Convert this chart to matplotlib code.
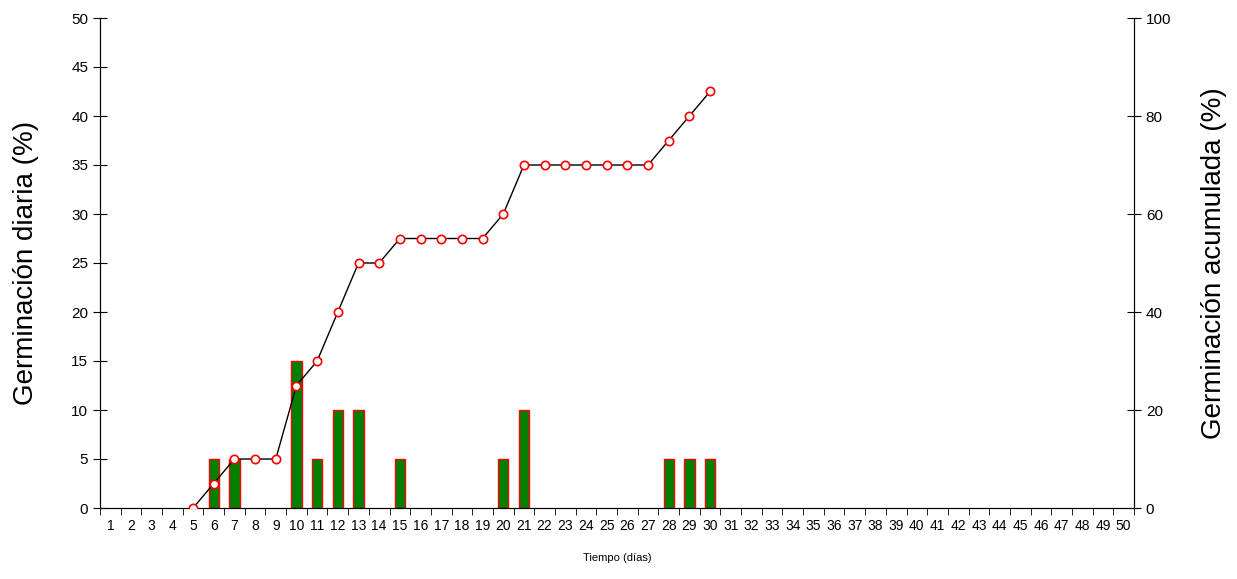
import matplotlib
matplotlib.use('Agg')
import matplotlib.pyplot as plt
import numpy as np

plt.rcParams['font.family'] = ['Liberation Sans', 'DejaVu Sans']

# datos
dias = list(range(1, 51))
dias_barra = [6, 7, 10, 11, 12, 13, 15, 20, 21, 28, 29, 30]
germ_diaria = [5, 5, 15, 5, 10, 10, 5, 5, 10, 5, 5, 5]
dias_acum = list(range(5, 31))
germ_acum = [0, 5, 10, 10, 10, 25, 30, 40, 50, 50, 55, 55, 55, 55, 55, 60,
             70, 70, 70, 70, 70, 70, 70, 75, 80, 85]

fig = plt.figure(figsize=(12.37, 5.79), dpi=100)
ax1 = fig.add_axes([100/1237, 71/579, 1034/1237, 490/579])
ax2 = ax1.twinx()

ax1.bar(dias_barra, germ_diaria, width=0.5, color='#008000', edgecolor='red', linewidth=1, zorder=2)
ax2.plot(dias_acum, germ_acum, color='black', linewidth=1, marker='o', markersize=6,
         markerfacecolor='white', markeredgecolor='red', markeredgewidth=1.2, zorder=3)

ax1.set_xlim(0.5, 50.5)
ax1.set_ylim(0, 50)
ax2.set_ylim(0, 100)
ax1.set_yticks(np.arange(0, 51, 5))
ax2.set_yticks(np.arange(0, 101, 20))

ax1.set_xticks(dias)
ax1.set_xticklabels([str(d) for d in dias], fontsize=10)
ax1.set_xticks(np.arange(0.5, 51, 1), minor=True)
ax1.tick_params(axis='x', which='major', length=0, pad=8)
ax1.tick_params(axis='x', which='minor', length=5, direction='out')
ax1.tick_params(axis='y', direction='inout', length=10, labelsize=11)
ax2.tick_params(axis='y', direction='inout', length=10, labelsize=11)

for s in ['top']:
    ax1.spines[s].set_visible(False)
    ax2.spines[s].set_visible(False)

ax1.set_xlabel('Tiempo (días)', fontsize=8, labelpad=14)
ax1.set_ylabel('Germinación diaria (%)', fontsize=20)
ax2.set_ylabel('Germinación acumulada (%)', fontsize=20)
ax1.yaxis.set_label_coords(-0.059, 0.5)
ax2.yaxis.set_label_coords(1.065, 0.5)

ax1.set_zorder(1)
ax2.set_zorder(2)
ax2.patch.set_visible(False)

fig.savefig('out.png', dpi=100)
